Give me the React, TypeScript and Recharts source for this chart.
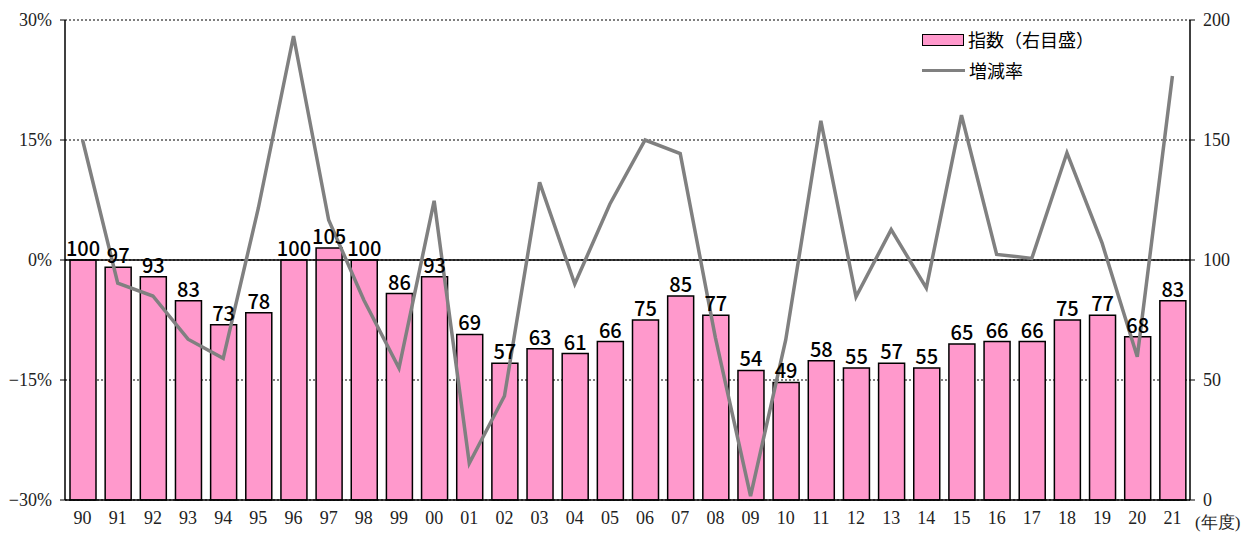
import React from 'react';
import {
  ComposedChart,
  Bar,
  Line,
  XAxis,
  YAxis,
  CartesianGrid,
  ReferenceLine,
  LabelList,
} from 'recharts';

const years = [
  '90', '91', '92', '93', '94', '95', '96', '97', '98', '99',
  '00', '01', '02', '03', '04', '05', '06', '07', '08', '09',
  '10', '11', '12', '13', '14', '15', '16', '17', '18', '19',
  '20', '21',
];

// 指数（右目盛）
const indexValues = [
  100, 97, 93, 83, 73, 78, 100, 105, 100, 86,
  93, 69, 57, 63, 61, 66, 75, 85, 77, 54,
  49, 58, 55, 57, 55, 65, 66, 66, 75, 77,
  68, 83,
];

// 増減率 (%)
const changeRates = [
  15.0, -2.9, -4.5, -9.9, -12.3, 6.5, 28.0, 5.0, -5.0, -13.5,
  7.4, -25.4, -17.0, 9.7, -3.0, 7.0, 15.0, 13.3, -9.7, -29.5,
  -10.0, 17.4, -4.6, 3.8, -3.5, 18.1, 0.7, 0.2, 13.4, 2.1,
  -12.1, 23.0,
];

const leftTicks = [-30, -15, 0, 15, 30];
const rightTicks = [0, 50, 100, 150, 200];

const data = years.map((year, i) => ({
  year,
  index: indexValues[i],
  rate: changeRates[i],
}));

const serif = '"Liberation Serif", "DejaVu Serif", serif';
const gothic = '"Noto Sans CJK JP", "Liberation Sans", sans-serif';

function LegendBox() {
  return (
    <div
      style={{
        position: 'absolute',
        left: 922,
        top: 24,
        fontFamily: gothic,
        fontSize: 18,
        color: '#000',
        lineHeight: '31px',
      }}
    >
      <div style={{ display: 'flex', alignItems: 'center' }}>
        <span
          style={{
            display: 'inline-block',
            width: 40,
            height: 10,
            background: '#FF99CC',
            border: '1.5px solid #000',
            marginRight: 4,
          }}
        />
        <span>指数（右目盛）</span>
      </div>
      <div style={{ display: 'flex', alignItems: 'center' }}>
        <span
          style={{
            display: 'inline-block',
            width: 43,
            height: 3,
            background: '#808080',
            marginRight: 4,
          }}
        />
        <span>増減率</span>
      </div>
    </div>
  );
}

export default function App() {
  return (
    <div style={{ position: 'absolute', left: 0, top: 0, width: 1241, height: 533, background: '#fff' }}>
      <ComposedChart
        width={1241}
        height={533}
        data={data}
        margin={{ top: 20, right: 0, bottom: 0, left: 0 }}
      >
        <CartesianGrid
          yAxisId="left"
          vertical={false}
          stroke="#000"
          strokeDasharray="2 2"
        />
        <XAxis
          dataKey="year"
          height={33}
          tickLine={false}
          axisLine={{ stroke: '#000', strokeWidth: 1.5 }}
          tickMargin={5}
          interval={0}
          tick={{ fontFamily: serif, fontSize: 18, fill: '#222' }}
        />
        <YAxis
          yAxisId="left"
          width={65}
          domain={[-30, 30]}
          ticks={leftTicks}
          interval={0}
          tickFormatter={(v: number) => `${v < 0 ? '−' + Math.abs(v) : v}%`}
          axisLine={{ stroke: '#000', strokeWidth: 1.5 }}
          tickLine={{ stroke: '#000' }}
          tickSize={5}
          tickMargin={8}
          tick={{ fontFamily: serif, fontSize: 18, fill: '#222' }}
        />
        <YAxis
          yAxisId="right"
          orientation="right"
          width={51}
          domain={[0, 200]}
          ticks={rightTicks}
          interval={0}
          axisLine={{ stroke: '#000', strokeWidth: 1.5 }}
          tickLine={{ stroke: '#000' }}
          tickSize={5}
          tickMargin={8}
          tick={{ fontFamily: serif, fontSize: 18, fill: '#222', textAnchor: 'start' }}
        />
        <Bar
          yAxisId="right"
          dataKey="index"
          name="指数（右目盛）"
          fill="#FF99CC"
          stroke="#000"
          strokeWidth={1.5}
          barSize={26}
          isAnimationActive={false}
        >
          <LabelList
            dataKey="index"
            position="top"
            offset={4}
            style={{ fontFamily: gothic, fontSize: 20, fontWeight: 500, fill: '#000' }}
          />
        </Bar>
        <ReferenceLine yAxisId="left" y={0} stroke="#000" strokeWidth={1.5} />
        <Line
          yAxisId="left"
          type="linear"
          dataKey="rate"
          name="増減率"
          stroke="#808080"
          strokeWidth={3.5}
          dot={false}
          activeDot={false}
          isAnimationActive={false}
        />
      </ComposedChart>
      <LegendBox />
      <span
        style={{
          position: 'absolute',
          left: 1195,
          top: 511,
          fontFamily: serif,
          fontSize: 17,
          color: '#222',
          whiteSpace: 'nowrap',
        }}
      >
        (年度)
      </span>
    </div>
  );
}
